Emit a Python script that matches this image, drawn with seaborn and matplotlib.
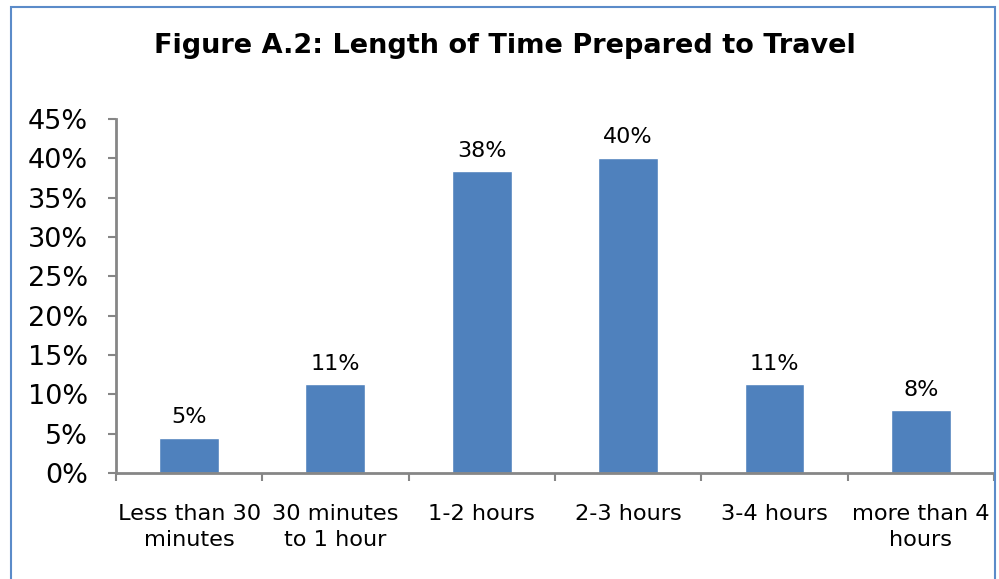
import matplotlib
matplotlib.use("Agg")
import matplotlib.pyplot as plt
from matplotlib.patches import Rectangle
import seaborn as sns
import pandas as pd

categories = ["Less than 30\nminutes", "30 minutes\nto 1 hour", "1-2 hours",
              "2-3 hours", "3-4 hours", "more than 4\nhours"]
shares = [4.5, 11.3, 38.4, 40.1, 11.3, 8.0]
y_ticks = [0, 5, 10, 15, 20, 25, 30, 35, 40, 45]
title = "Figure A.2: Length of Time Prepared to Travel"

df = pd.DataFrame({"category": categories, "share": shares})

sns.set_theme(style="white")
plt.rcParams["font.family"] = ["DejaVu Sans"]

fig = plt.figure(figsize=(9.99, 5.79), dpi=100)
ax = fig.add_axes([0.1161, 0.1831, 0.8789, 0.6114])

sns.barplot(data=df, x="category", y="share", color="#4F81BD",
            saturation=1, width=0.41, ax=ax)

ax.set_ylim(0, 45)
ax.set_xlim(-0.5, 5.5)
ax.set_yticks(y_ticks)
ax.set_yticklabels([f"{t}%" for t in y_ticks], fontsize=19.5, color="#000000")
ax.set_xlabel("")
ax.set_ylabel("")

# category boundary ticks on the x axis
ax.set_xticks([i - 0.5 for i in range(len(categories) + 1)], minor=True)
ax.tick_params(axis="x", which="minor", length=6, width=1.5, color="#868686",
               direction="out", bottom=True)
ax.tick_params(axis="x", which="major", length=0, pad=22, labelsize=16.2,
               labelcolor="#000000")
ax.tick_params(axis="y", which="major", length=6, width=1.5, color="#868686",
               direction="out", left=True, pad=14)
for lbl in ax.get_xticklabels():
    lbl.set_linespacing(1.4)

for side in ["top", "right"]:
    ax.spines[side].set_visible(False)
for side in ["left", "bottom"]:
    ax.spines[side].set_color("#868686")
    ax.spines[side].set_linewidth(2)

# value labels above bars
for i, v in enumerate(shares):
    ax.text(i, v + 1.3, f"{int(v + 0.5)}%", ha="center", va="bottom",
            fontsize=16, color="#000000")

fig.text(0.505, 0.921, title, ha="center", va="center", fontsize=19.5,
         fontweight="bold", color="#000000")

# chart area frame
fig.patches.append(Rectangle((11 / 999, -0.05), (995 - 11) / 999,
                             1.05 - 7 / 579, transform=fig.transFigure,
                             fill=False, edgecolor="#5B8BC9", linewidth=1.5))

fig.savefig("out.png", dpi=100)
